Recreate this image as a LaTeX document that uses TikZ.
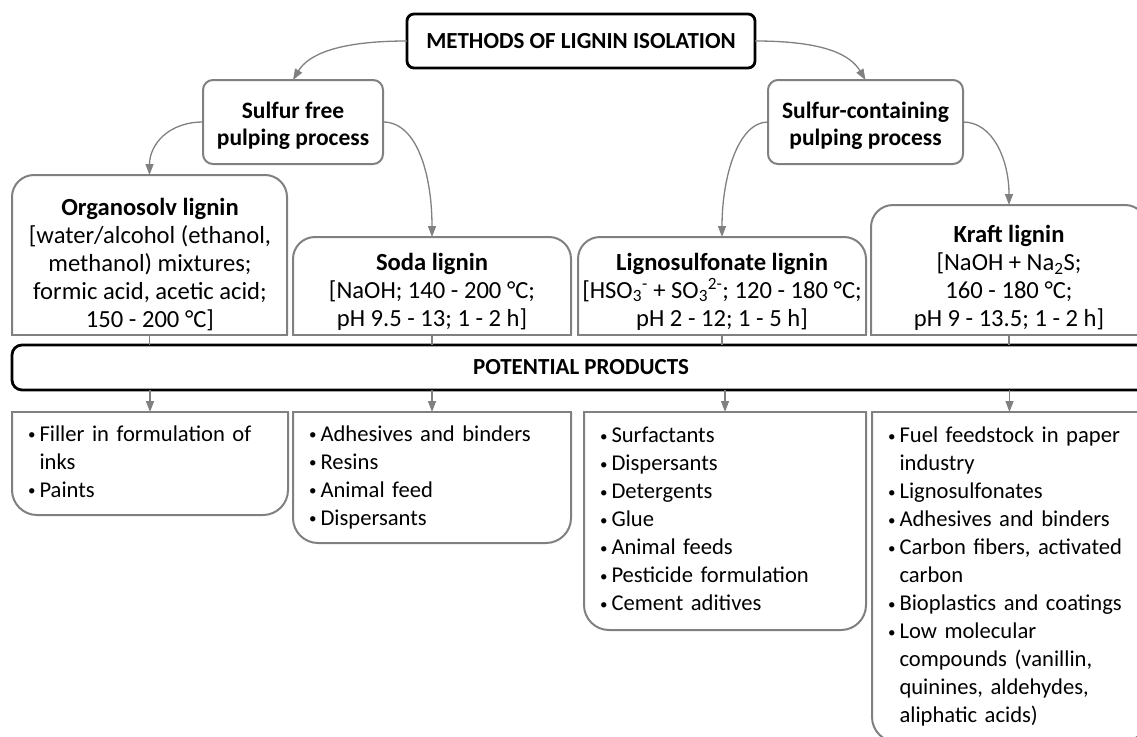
\documentclass[tikz,border=0pt]{standalone}
\usepackage{fontspec}
\setmainfont{Carlito}
\usetikzlibrary{arrows.meta,calc}
\definecolor{gline}{RGB}{128,128,128}
\newcommand\bi{\makebox[11.5pt][l]{\raisebox{1.5pt}{\fontsize{15}{15}\selectfont\textbullet}}&}
\newcommand\blist[1]{\noindent\begin{tabular}{@{}l@{}l@{}}#1\end{tabular}}
\begin{document}
\begin{tikzpicture}[x=1pt,y=-1pt,
  gbox/.style={draw=gline, line width=2pt},
  kbox/.style={draw=black, line width=2.8pt, inner sep=0pt, outer sep=0pt,
     font=\bfseries\fontsize{23}{27}\selectfont},
  sbox/.style={draw=gline, line width=2pt, rounded corners=10pt, inner sep=0pt, outer sep=0pt,
     align=center, font=\bfseries\fontsize{23.5}{27}\selectfont},
  lbox/.style={inner sep=0pt, outer sep=0pt},
  ltext/.style={inner sep=0pt, align=center, font=\fontsize{24.6}{28}\selectfont},
  pbox/.style={inner xsep=16pt, inner ysep=0pt, outer sep=0pt, align=left,
     font=\fontsize{22.6}{28}\selectfont},
  conn/.style={draw=gline, line width=1.3pt, -{Triangle[length=11pt,width=8pt]}},
  gl/.style={draw=gline, line width=1.3pt},
  ]
\useasboundingbox (0,0) rectangle (1137,736);
\clip (0,0) rectangle (1137,736);

% top level
\node[kbox, rounded corners=7pt, minimum width=348pt, minimum height=54pt] (top) at (581,41) {METHODS OF LIGNIN ISOLATION};

% process boxes
\node[sbox, minimum width=180pt, minimum height=84pt] (sf) at (293,122) {\rule{0pt}{24pt}Sulfur free\\pulping process};
\node[sbox, minimum width=195pt, minimum height=84pt] (sc) at (865.5,122) {\rule{0pt}{24pt}Sulfur-containing\\pulping process};

% lignin boxes (outlines) and their texts
\node[lbox, minimum width=275pt, minimum height=160pt] (org) at (149.5,255) {};
\node[lbox, minimum width=278pt, minimum height=98pt] (soda) at (432,286) {};
\node[lbox, minimum width=288pt, minimum height=98pt] (lig) at (722,286) {};
\node[lbox, minimum width=276pt, minimum height=130pt] (kr) at (1009,270) {};

\foreach \n in {org,soda,lig,kr}{
  \draw[gbox, rounded corners=22pt] (\n.south west) -- (\n.north west) -- (\n.north east) -- (\n.south east);
  \draw[gbox, line cap=rect] (\n.south west) -- (\n.south east);
}

\node[ltext] (orgT) at (150,265) {\textbf{Organosolv lignin}\\{[}water/alcohol (ethanol,\\methanol) mixtures;\\formic acid, acetic acid;\\150 - 200 °C{]}};
\node[ltext] (sodaT) at (432,291.5) {\textbf{Soda lignin}\\{[}NaOH; 140 - 200 °C;\\pH 9.5 - 13; 1 - 2 h{]}};
\node[ltext] (ligT) at (722,291.5) {\textbf{Lignosulfonate lignin}\\{[}HSO\textsubscript{3}\textsuperscript{-} + SO\textsubscript{3}\textsuperscript{2-}; 120 - 180 °C;\\pH 2 - 12; 1 - 5 h{]}};
\node[ltext] (krT) at (1009,278) {\textbf{Kraft lignin}\\{[}NaOH + Na\textsubscript{2}S;\\160 - 180 °C;\\pH 9 - 13.5; 1 - 2 h{]}};

% products bar
\node[kbox, rounded corners=10pt, minimum width=1138pt, minimum height=45pt] (bar) at (581,367.5) {POTENTIAL PRODUCTS};

% product boxes
\node[pbox, minimum height=103pt, text width=244pt] (p1) at (150,463.5) {\blist{\bi Filler in formulation of\\ & inks\\ \bi Paints}};
\node[pbox, minimum height=131pt, text width=246pt] (p2) at (432,477.5) {\blist{\bi Adhesives and binders\\ \bi Resins\\ \bi Animal feed\\ \bi Dispersants}};
\node[pbox, minimum height=218pt, text width=250pt] (p3) at (725,521) {\blist{\bi Surfactants\\ \bi Dispersants\\ \bi Detergents\\ \bi Glue\\ \bi Animal feeds\\ \bi Pesticide formulation\\ \bi Cement aditives}};
\node[pbox, minimum height=330pt, text width=243pt] (p4) at (1009.5,577) {\blist{\bi Fuel feedstock in paper\\ & industry\\ \bi Lignosulfonates\\ \bi Adhesives and binders\\ \bi Carbon fibers, activated\\ & carbon\\ \bi Bioplastics and coatings\\ \bi Low molecular\\ & compounds (vanillin,\\ & quinines, aldehydes,\\ & aliphatic acids)}};

\foreach \n in {p1,p2,p3,p4}{
  \draw[gbox, rounded corners=25pt] (\n.north west) -- (\n.south west) -- (\n.south east) -- (\n.north east);
  \draw[gbox, line cap=rect] (\n.north west) -- (\n.north east);
}

% connectors top
\draw[conn] (top.west) .. controls +(-70,0) and +(15,-25) .. (sf.north);
\draw[conn] (top.east) .. controls +(70,0) and +(-15,-25) .. (sc.north);
\draw[conn] (sf.west) .. controls +(-35,0) and +(0,-30) .. (org.north);
\draw[conn] (sf.east) .. controls +(35,0) and +(0,-60) .. (soda.north);
\draw[conn] (sc.west) .. controls +(-30,0) and +(0,-60) .. (lig.north);
\draw[conn] (sc.east) .. controls +(30,0) and +(0,-45) .. (kr.north);

% connectors to bar and products
\foreach \a/\b in {org/p1,soda/p2,lig/p3,kr/p4}{
  \draw[gl] (\a.south) -- (\a.south |- bar.north);
  \draw[conn] (\b.north |- bar.south) -- (\b.north);
}
\end{tikzpicture}
\end{document}
